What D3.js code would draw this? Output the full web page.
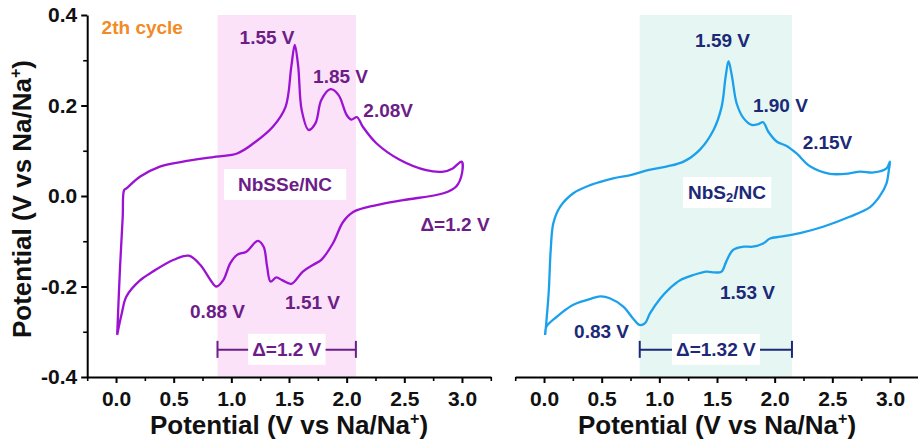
<!DOCTYPE html>
<html>
<head>
<meta charset="utf-8">
<script src="https://cdn.jsdelivr.net/npm/d3@7"></script>
<style>
  body { margin: 0; background: #fff; }
  svg { display: block; }
  text { font-family: "Liberation Sans", Arial, Helvetica, sans-serif; font-weight: bold; }
</style>
</head>
<body>
<svg id="chart" width="918" height="443"></svg>
<script>
// Axis ticks
const xTicks = [0, 0.5, 1.0, 1.5, 2.0, 2.5, 3.0];
const xMinorTicks = [-0.25, 0.25, 0.75, 1.25, 1.75, 2.25, 2.75, 3.25];
const yTicks = [-0.4, -0.2, 0.0, 0.2, 0.4];
const yMinorTicks = [-0.3, -0.1, 0.1, 0.3];

// NbSSe/NC cyclic voltammogram, 2nd cycle (anodic sweep then cathodic sweep)
const nbsseV = [0.01, 0.035, 0.058, 0.07, 0.09, 0.21, 0.38, 0.58, 0.87, 1.05, 1.19, 1.36, 1.47, 1.52, 1.55, 1.58,
  1.61, 1.67, 1.73, 1.78, 1.86, 1.93, 2.00, 2.04, 2.09, 2.14, 2.26, 2.46, 2.69, 2.84, 2.92, 2.997,
  3.0, 2.95, 2.84, 2.49, 2.26, 2.06, 1.97, 1.88, 1.78, 1.71, 1.62, 1.52, 1.44, 1.39, 1.34, 1.31,
  1.28, 1.23, 1.13, 1.05, 0.99, 0.93, 0.87, 0.82, 0.73, 0.63, 0.50, 0.32, 0.21, 0.09, 0.05, 0.01];
const nbsseI = [-0.307, -0.156, -0.046, 0.013, 0.017, 0.043, 0.065, 0.076, 0.087, 0.094, 0.116, 0.153, 0.197, 0.286, 0.334, 0.286,
  0.19, 0.146, 0.161, 0.212, 0.236, 0.223, 0.179, 0.169, 0.174, 0.153, 0.116, 0.080, 0.057, 0.054, 0.061, 0.076,
  0.05, 0.021, 0.006, -0.009, -0.020, -0.035, -0.057, -0.105, -0.141, -0.152, -0.167, -0.194, -0.186, -0.180, -0.189, -0.156,
  -0.112, -0.099, -0.123, -0.130, -0.149, -0.186, -0.200, -0.186, -0.152, -0.132, -0.141, -0.167, -0.186, -0.222, -0.259, -0.307];

// NbS2/NC cyclic voltammogram, 2nd cycle
const nbs2V = [0.01, 0.04, 0.058, 0.081, 0.139, 0.254, 0.40, 0.60, 0.75, 0.90, 1.06, 1.21, 1.35, 1.47, 1.54, 1.575, 1.60,
  1.63, 1.67, 1.73, 1.80, 1.86, 1.90, 1.945, 2.02, 2.10, 2.19, 2.31, 2.48, 2.65, 2.74, 2.86, 2.97, 3.0,
  2.99, 2.97, 2.91, 2.83, 2.65, 2.42, 2.22, 2.05, 1.96, 1.90, 1.81, 1.73, 1.64, 1.58, 1.54, 1.48, 1.41,
  1.29, 1.18, 1.09, 1.01, 0.92, 0.876, 0.83, 0.77, 0.69, 0.57, 0.49, 0.37, 0.25, 0.11, 0.02, 0.01];
const nbs2I = [-0.307, -0.215, -0.119, -0.060, -0.024, 0.006, 0.024, 0.039, 0.046, 0.057, 0.065, 0.076, 0.102, 0.146, 0.197, 0.264, 0.298,
  0.264, 0.205, 0.172, 0.157, 0.159, 0.163, 0.142, 0.120, 0.111, 0.094, 0.065, 0.049, 0.050, 0.054, 0.052, 0.061, 0.076,
  0.057, 0.028, -0.001, -0.024, -0.046, -0.068, -0.082, -0.090, -0.094, -0.105, -0.112, -0.112, -0.119, -0.145, -0.167, -0.169, -0.167,
  -0.175, -0.186, -0.204, -0.226, -0.259, -0.281, -0.285, -0.270, -0.245, -0.226, -0.222, -0.230, -0.241, -0.267, -0.289, -0.307];

// Redox windows (cathodic peak to highest anodic peak)
const nbsseWindow = [0.88, 2.08];
const nbs2Window = [0.83, 2.15];

// Peak annotations, placed in data units
const nbsseNotes = [
  { text: "1.55 V", v: 1.31, i: 0.351 },
  { text: "1.85 V", v: 1.947, i: 0.265 },
  { text: "2.08V", v: 2.36, i: 0.188 },
  { text: "0.88 V", v: 0.88, i: -0.256 },
  { text: "1.51 V", v: 1.704, i: -0.236 }
];
const nbs2Notes = [
  { text: "1.59 V", v: 1.548, i: 0.343 },
  { text: "1.90 V", v: 2.05, i: 0.201 },
  { text: "2.15V", v: 2.458, i: 0.119 },
  { text: "1.53 V", v: 1.764, i: -0.214 },
  { text: "0.83 V", v: 0.499, i: -0.30 }
];

const svg = d3.select("#chart");
const yScale = d3.scaleLinear().domain([-0.4, 0.4]).range([377, 15]);

const panels = [
  {
    v: nbsseV, i: nbsseI, win: nbsseWindow, notes: nbsseNotes,
    range: [87.2, 490.8], line: "#9b12d2", band: "#fbe2f9", ink: "#6c1d88",
    name: [{ t: "NbSSe/NC" }], nameAt: { v: 1.465, i: 0.0265 }, namePad: [14, 15],
    delta: "\u0394=1.2 V", showY: true
  },
  {
    v: nbs2V, i: nbs2I, win: nbs2Window, notes: nbs2Notes,
    range: [515.2, 918.8], line: "#1ba1ec", band: "#e5f6f3", ink: "#1b2977",
    name: [{ t: "NbS" }, { t: "2", sub: true }, { t: "/NC" }], nameAt: { v: 1.587, i: 0.009 }, namePad: [5, 15],
    delta: "\u0394=1.32 V", showY: false
  }
];

function titleText(sel) {
  sel.append("tspan").text("Potential (V vs Na/Na");
  sel.append("tspan").attr("dy", -10).attr("font-size", 16).text("+");
  sel.append("tspan").attr("dy", 10).text(")");
}

const labelSize = 19;

panels.forEach(p => {
  const x = d3.scaleLinear().domain([-0.25, 3.25]).range(p.range);
  const g = svg.append("g");

  // shaded redox window
  g.append("rect")
    .attr("x", x(p.win[0])).attr("width", x(p.win[1]) - x(p.win[0]))
    .attr("y", yScale(0.4)).attr("height", yScale(-0.4) - yScale(0.4))
    .attr("fill", p.band);

  // CV loop
  const pts = p.v.map((v, k) => [v, p.i[k]]);
  const line = d3.line().x(d => x(d[0])).y(d => yScale(d[1])).curve(d3.curveCatmullRom.alpha(0.5));
  g.append("path").datum(pts).attr("d", line)
    .attr("fill", "none").attr("stroke", p.line).attr("stroke-width", 2.3)
    .attr("stroke-linejoin", "round");

  // sample name in a white box
  const nameG = g.append("g");
  const nameBox = nameG.append("rect").attr("fill", "#fff");
  const nameT = nameG.append("text")
    .attr("x", x(p.nameAt.v)).attr("y", yScale(p.nameAt.i))
    .attr("text-anchor", "middle").attr("dominant-baseline", "central")
    .attr("font-size", labelSize).attr("fill", p.ink);
  p.name.forEach(s => {
    const ts = nameT.append("tspan").text(s.t);
    if (s.sub) ts.attr("font-size", 13).attr("dy", 5);
    else if (s.t === "/NC") ts.attr("dy", -5);
  });
  const nb = nameT.node().getBBox();
  nameBox.attr("x", nb.x - p.namePad[0]).attr("width", nb.width + 2 * p.namePad[0])
    .attr("y", yScale(p.nameAt.i) - p.namePad[1]).attr("height", 2 * p.namePad[1] + 1);

  // peak labels
  g.selectAll(".note").data(p.notes).enter().append("text")
    .attr("x", d => x(d.v)).attr("y", d => yScale(d.i))
    .attr("text-anchor", "middle").attr("dominant-baseline", "central")
    .attr("font-size", labelSize).attr("fill", p.ink)
    .text(d => d.text);

  // window bracket
  const by = yScale(-0.34);
  const bk = g.append("g").attr("stroke", p.ink).attr("stroke-width", 2);
  bk.append("line").attr("x1", x(p.win[0])).attr("x2", x(p.win[1])).attr("y1", by).attr("y2", by);
  bk.append("line").attr("x1", x(p.win[0])).attr("x2", x(p.win[0])).attr("y1", by - 9).attr("y2", by + 8);
  bk.append("line").attr("x1", x(p.win[1])).attr("x2", x(p.win[1])).attr("y1", by - 9).attr("y2", by + 8);
  const midX = (x(p.win[0]) + x(p.win[1])) / 2;
  const dBox = g.append("rect").attr("fill", "#fff");
  const dT = g.append("text").attr("x", midX).attr("y", by)
    .attr("text-anchor", "middle").attr("dominant-baseline", "central")
    .attr("font-size", labelSize).attr("fill", p.ink).text(p.delta);
  const db = dT.node().getBBox();
  dBox.attr("x", db.x - 4).attr("width", db.width + 8).attr("y", by - 16).attr("height", 31);

  // x axis
  const ax = g.append("g").attr("transform", `translate(0,${yScale(-0.4)})`)
    .call(d3.axisBottom(x).tickValues(xTicks).tickFormat(d => d.toFixed(1)).tickSize(6).tickSizeOuter(0).tickPadding(8));
  ax.select(".domain").attr("stroke-width", 2);
  ax.selectAll(".tick line").attr("stroke-width", 2);
  ax.selectAll(".tick text").attr("font-size", 21).attr("fill", "#111");
  const axm = g.append("g").attr("transform", `translate(0,${yScale(-0.4)})`)
    .call(d3.axisBottom(x).tickValues(xMinorTicks).tickFormat("").tickSize(4).tickSizeOuter(0));
  axm.select(".domain").remove();
  axm.selectAll(".tick line").attr("stroke-width", 1.6);

  g.append("text").attr("x", (x(0) + x(3)) / 2).attr("y", 434)
    .attr("text-anchor", "middle").attr("font-size", 26).attr("fill", "#111")
    .call(titleText);

  if (p.showY) {
    const ay = g.append("g").attr("transform", `translate(${p.range[0]},0)`)
      .call(d3.axisLeft(yScale).tickValues(yTicks).tickFormat(d => d.toFixed(1)).tickSize(6).tickSizeOuter(0).tickPadding(4));
    ay.select(".domain").attr("stroke-width", 2);
    ay.selectAll(".tick line").attr("stroke-width", 2);
    ay.selectAll(".tick text").attr("font-size", 21).attr("fill", "#111");
    const aym = g.append("g").attr("transform", `translate(${p.range[0]},0)`)
      .call(d3.axisLeft(yScale).tickValues(yMinorTicks).tickFormat("").tickSize(4).tickSizeOuter(0));
    aym.select(".domain").remove();
    aym.selectAll(".tick line").attr("stroke-width", 1.6);

    g.append("text").attr("transform", `translate(31,${yScale(0) + 3}) rotate(-90)`)
      .attr("text-anchor", "middle").attr("font-size", 26).attr("fill", "#111")
      .call(titleText);

    g.append("text").attr("x", x(-0.125)).attr("y", yScale(0.373))
      .attr("dominant-baseline", "central").attr("font-size", labelSize).attr("fill", "#f28a26")
      .text("2th cycle");

    g.append("text").attr("x", x(2.64)).attr("y", yScale(-0.064))
      .attr("dominant-baseline", "central").attr("font-size", labelSize).attr("fill", p.ink)
      .text("\u0394=1.2 V");
  }
});
</script>
</body>
</html>
